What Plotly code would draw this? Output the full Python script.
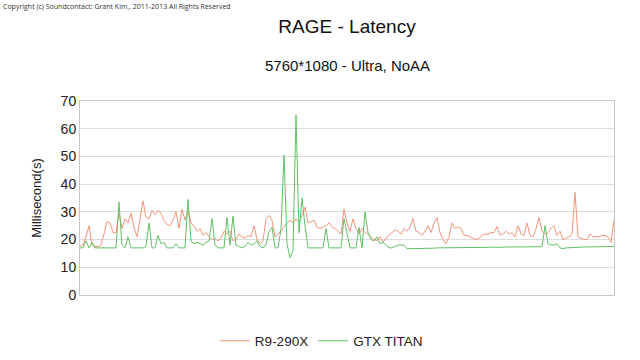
import plotly.graph_objects as go

# Sample index (one sample per ~3 px of the original chart)
r9_290x = [
    17.5, 18, 21, 25, 18, 17.5, 17.5, 18, 22, 26.5,
    26, 22.5, 22.5, 29.5, 24, 27.5, 26, 29.5, 24.4, 21,
    27.5, 34, 28, 27.5, 30.5, 29, 30.5, 29.5, 27, 25.5,
    25, 27, 30, 24, 31, 27, 30.5, 26, 25, 23,
    24, 21.5, 22.5, 21, 20, 20.5, 19.5, 20.5, 23, 22,
    23, 19.6, 20, 22, 21, 20.5, 21.5, 21, 25, 20,
    18.5, 19.5, 27.5, 28.7, 27, 21, 22, 23, 24.5, 26,
    27, 26, 27.5, 26, 28.7, 31.7, 26, 26.5, 27, 24.5,
    24, 24.5, 25, 26, 24.5, 24, 23, 22, 31, 26,
    23, 27.5, 24, 22, 24, 22.5, 22, 21, 20, 19.6,
    21, 19, 20.5, 21.5, 22.5, 23.5, 23, 22, 24, 23,
    24.5, 27.6, 23, 22.5, 21.5, 23, 25, 22.5, 26, 28,
    22.5, 20, 18.5, 21, 26, 24, 24.5, 24, 21.5, 21.5,
    21, 20.5, 20, 20.5, 21.5, 22, 22, 22.5, 22.5, 24.7,
    21.5, 22, 23, 22, 22.5, 21, 25, 22, 21.5, 26,
    21.5, 21, 24, 28, 23, 22, 22.5, 24, 25, 21.5,
    23, 20, 20.5, 21, 22, 37, 21, 20.5, 20, 20,
    22, 21, 21, 21, 21.5, 21.5, 21, 19, 27,
]

gtx_titan = [
    17, 17, 19.6, 17, 19, 17, 17, 17, 17, 17,
    17, 17, 17, 33.5, 18, 17, 21, 17, 17, 17,
    17, 17, 17.5, 26, 17, 17, 21.5, 18.5, 19, 17,
    17, 17, 18.5, 17, 17, 17, 34.5, 19.5, 18.5, 19,
    18.5, 18, 19, 19.5, 27.6, 18, 17, 17, 17, 28,
    18, 28.5, 18, 17.5, 17, 17.5, 19, 18, 18.5, 19.6,
    17.5, 17, 18, 23, 24.5, 17, 17, 24, 50.5, 18.5,
    13.5, 16, 65, 22.5, 35, 25, 17, 17, 17, 17,
    17, 17, 24, 17, 17, 17, 17, 17, 27.6, 22,
    17, 17, 17, 24.4, 17, 30, 22.5, 20, 19.6, 21,
    18.5, 19, 18, 17, 17, 17.5, 18, 18, 18, 16.7,
    16.7, 16.7, 16.8, 16.8, 16.8, 16.9, 16.9, 16.9, 16.9, 17,
    17, 17, 17, 17, 17, 17.1, 17.1, 17, 17, 17.1,
    17.2, 17.2, 17.2, 17.1, 17.1, 17.2, 17.2, 17.3, 17.2, 17.2,
    17.2, 17.3, 17.3, 17.2, 17.2, 17.3, 17.3, 17.3, 17.3, 17.3,
    17.3, 17.3, 17.3, 17.4, 17.5, 25, 18.5, 18, 18, 18.5,
    17, 16.7, 17, 17, 17.1, 17.2, 17.2, 17.3, 17.3, 17.3,
    17.3, 17.4, 17.4, 17.4, 17.4, 17.5, 17.5, 17.5, 17.5,
]

series_names = ["R9-290X", "GTX TITAN"]
y_ticks = [0, 10, 20, 30, 40, 50, 60, 70]

samples = list(range(len(r9_290x)))

FONT = "Liberation Sans, Arial, sans-serif"

fig = go.Figure()
fig.add_trace(go.Scatter(x=samples, y=r9_290x, mode="lines", name=series_names[0],
                         line=dict(color="#F3957C", width=1)))
fig.add_trace(go.Scatter(x=samples, y=gtx_titan, mode="lines", name=series_names[1],
                         line=dict(color="#62C167", width=1)))

fig.update_layout(
    width=640, height=360,
    margin=dict(l=80, r=26, t=101, b=65, autoexpand=False),
    paper_bgcolor="white", plot_bgcolor="white",
    font=dict(family=FONT, color="#222"),
    title=dict(text="RAGE - Latency", x=0.5, xanchor="center", xref="paper",
               y=1 - 26 / 360, yanchor="middle", yref="container",
               font=dict(size=19, family=FONT, color="#111")),
    showlegend=True,
    legend=dict(orientation="h", x=0.452, xanchor="center", y=(295 - 341) / 194, yanchor="middle",
                font=dict(size=13.5, family=FONT, color="#222"), itemwidth=30,
                tracegroupgap=0, bgcolor="rgba(0,0,0,0)"),
    xaxis=dict(range=[0, len(r9_290x) - 1], showticklabels=False, ticks="",
               showgrid=False, zeroline=False, showline=True, linecolor="#c8c8c8",
               linewidth=1, mirror=True),
    yaxis=dict(range=[0, 70], tickvals=y_ticks, ticks="", showgrid=True,
               gridcolor="#dcdcdc", gridwidth=1, zeroline=False, showline=True,
               linecolor="#c8c8c8", linewidth=1, mirror=True,
               tickfont=dict(size=14, family=FONT, color="#222"),
               title=dict(text="Millisecond(s)", font=dict(size=13, family=FONT, color="#222"),
                          standoff=16)),
    annotations=[
        dict(text="5760*1080 - Ultra, NoAA", xref="paper", yref="paper",
             x=0.5, y=(295 - 65) / 194, xanchor="center", yanchor="middle",
             showarrow=False, font=dict(size=15, family=FONT, color="#111")),
        dict(text="Copyright (c) Soundcontact: Grant Kim,. 2011-2013 All Rights Reserved",
             xref="paper", yref="paper", x=(1 - 80) / 534, y=(295 - 7) / 194,
             xanchor="left", yanchor="middle", showarrow=False,
             font=dict(size=7, family="Open Sans, sans-serif", color="#333")),
    ],
)

fig.write_html("out.html")
